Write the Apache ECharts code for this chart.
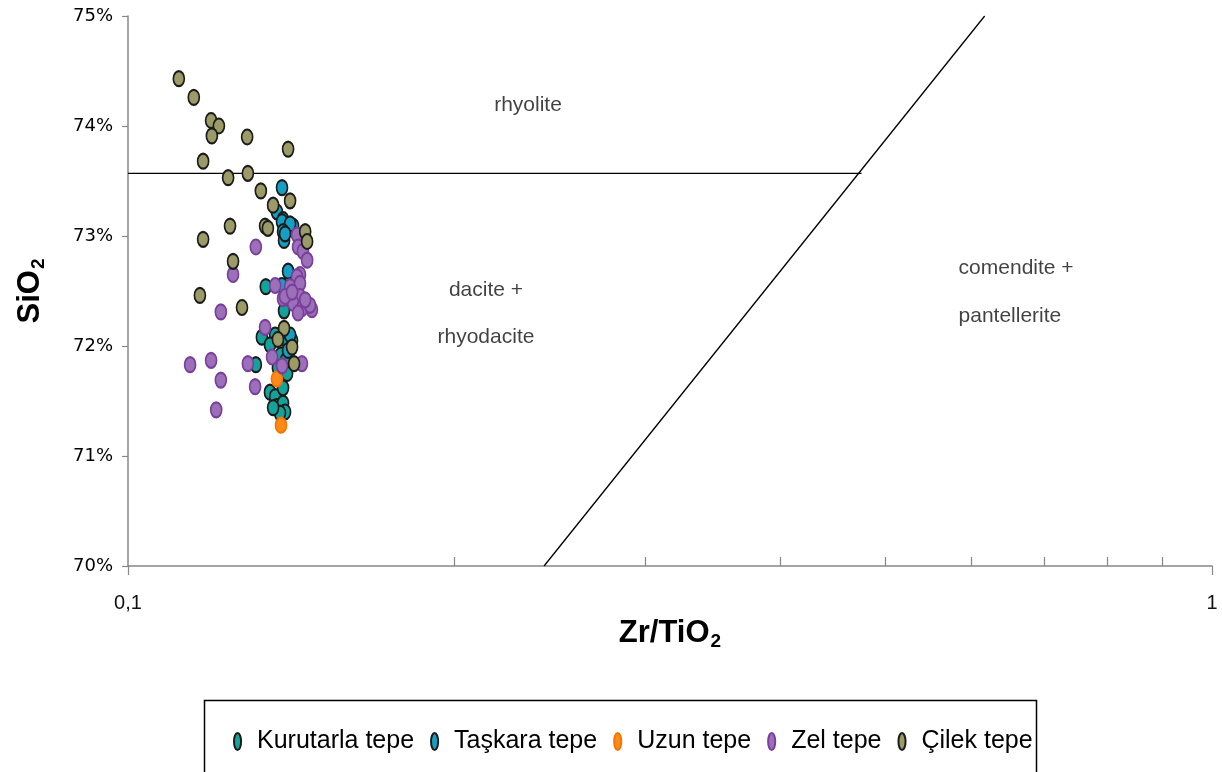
<!DOCTYPE html>
<html>
<head>
<meta charset="utf-8">
<script src="https://cdn.jsdelivr.net/npm/echarts@6/dist/echarts.min.js"></script>
<style>html,body{margin:0;padding:0;background:#fff;}#chart{width:1222px;height:772px;}</style>
</head>
<body>
<div id="chart"></div>
<script>
// ---- data ----
const seriesNames = ['Kurutarla tepe', 'Taşkara tepe', 'Uzun tepe', 'Zel tepe', 'Çilek tepe'];

const kurutarla = [
  [0.1340, 72.54], [0.1393, 72.32], [0.1329, 72.08], [0.1367, 72.10], [0.1312, 71.83],
  [0.1402, 71.75], [0.1384, 71.92], [0.1352, 71.58], [0.1367, 71.54], [0.1372, 71.45],
  [0.1390, 71.48], [0.1396, 71.40], [0.1381, 71.39], [0.1361, 71.44], [0.1399, 71.87],
  [0.1417, 72.05], [0.1405, 72.03], [0.1352, 72.01], [0.1390, 71.62], [0.1375, 71.80]
];
const taskara = [
  [0.1387, 73.44], [0.1372, 73.22], [0.1390, 73.15], [0.1387, 73.13], [0.1420, 73.09],
  [0.1411, 73.11], [0.1390, 73.04], [0.1393, 72.96], [0.1396, 73.02], [0.1405, 72.68],
  [0.1387, 72.55], [0.1411, 72.10], [0.1405, 71.96]
];
const uzun = [
  [0.1372, 71.70], [0.1384, 71.28]
];
const zel = [
  [0.1141, 71.83], [0.1193, 71.87], [0.1218, 71.69], [0.1206, 71.42], [0.1218, 72.31],
  [0.1250, 72.65], [0.1312, 72.90], [0.1290, 71.84], [0.1310, 71.63], [0.1338, 72.17],
  [0.1358, 71.90], [0.1387, 71.82], [0.1447, 71.84], [0.1367, 72.55], [0.1432, 73.01],
  [0.1435, 72.90], [0.1450, 72.86], [0.1463, 72.78], [0.1441, 72.65], [0.1432, 72.63],
  [0.1411, 72.54], [0.1441, 72.57], [0.1441, 72.45], [0.1390, 72.43], [0.1420, 72.39],
  [0.1447, 72.34], [0.1478, 72.33], [0.1435, 72.30], [0.1472, 72.37], [0.1457, 72.42],
  [0.1396, 72.45], [0.1417, 72.49]
];
const cilek = [
  [0.1114, 74.43], [0.1150, 74.26], [0.1193, 74.05], [0.1213, 74.00], [0.1195, 73.91],
  [0.1288, 73.90], [0.1405, 73.79], [0.1173, 73.68], [0.1237, 73.53], [0.1290, 73.57],
  [0.1326, 73.41], [0.1411, 73.32], [0.1361, 73.28], [0.1242, 73.09], [0.1338, 73.09],
  [0.1346, 73.07], [0.1173, 72.97], [0.1457, 73.04], [0.1463, 72.95], [0.1250, 72.77],
  [0.1165, 72.46], [0.1274, 72.35], [0.1393, 72.16], [0.1375, 72.06], [0.1417, 71.99],
  [0.1423, 71.84]
];

// field boundaries
const rhyoliteBoundary = [[0.1, 73.57], [0.475, 73.57]];
const comenditeBoundary = [[0.242, 70], [0.617, 75]];

// field names
const regionLabels = [
  { name: 'rhyolite', value: [0.2339, 74.19] },
  { name: 'dacite +', value: [0.2139, 72.51] },
  { name: 'rhyodacite', value: [0.2139, 72.08] },
  { name: 'comendite +', value: [0.6596, 72.71] },
  { name: 'pantellerite', value: [0.651, 72.27] }
];

// axes
const yMin = 70, yMax = 75, yInterval = 1;
const xMin = 0.1, xMax = 1;
const xMinorTicks = [0.2, 0.3, 0.4, 0.5, 0.6, 0.7, 0.8, 0.9];

// ---- styles ----
const ellipse = 'path://M0,50 C0,22 22,0 50,0 C78,0 100,22 100,50 C100,78 78,100 50,100 C22,100 0,78 0,50 Z';
const legendIcon = 'path://M254,0 M0,120 C0,54 22,0 50,0 C78,0 100,54 100,120 C100,186 78,240 50,240 C22,240 0,186 0,120 Z';
const styles = [
  { color: '#14a39a', borderColor: '#1b1b1b' },
  { color: '#169fc4', borderColor: '#1b1b1b' },
  { color: '#ff8a1a', borderColor: '#f47600' },
  { color: '#9c70b8', borderColor: '#7a3e9c' },
  { color: '#9c9a66', borderColor: '#1b1b1b' }
];
const pointData = [kurutarla, taskara, uzun, zel, cilek];

const chart = echarts.init(document.getElementById('chart'), null, { renderer: 'canvas' });

const scatterSeries = seriesNames.map((n, i) => ({
  name: n,
  type: 'scatter',
  xAxisIndex: 0,
  yAxisIndex: 0,
  symbol: ellipse,
  symbolSize: [11, 15],
  data: pointData[i],
  itemStyle: { color: styles[i].color, borderColor: styles[i].borderColor, borderWidth: 1.9, opacity: 1 },
  emphasis: { disabled: true },
  z: 3 + i
}));

const option = {
  animation: false,
  backgroundColor: '#ffffff',
  grid: { left: 128, right: 10, top: 16, bottom: 206, outerBoundsMode: 'none' },
  xAxis: [
    {
      type: 'log', logBase: 10, min: xMin, max: xMax,
      name: '{a|Zr/TiO}{b|2}', nameLocation: 'middle', nameGap: 47,
      nameTextStyle: {
        rich: {
          a: { fontFamily: 'Liberation Sans', fontWeight: 'bold', fontSize: 31, color: '#000' },
          b: { fontFamily: 'Liberation Sans', fontWeight: 'bold', fontSize: 19, color: '#000', padding: [16, 0, 0, 1] }
        }
      },
      axisLine: { show: true, onZero: false, lineStyle: { color: '#878787', width: 1.5 } },
      axisTick: { show: true, inside: false, length: 9, lineStyle: { color: '#878787', width: 1.2 } },
      axisLabel: {
        margin: 27, fontFamily: 'Liberation Sans', fontSize: 20, color: '#111',
        formatter: v => String(v).replace('.', ',')
      },
      splitLine: { show: false },
      minorTick: { show: false }
    },
    {
      type: 'value', min: Math.log10(xMin), max: Math.log10(xMax), position: 'bottom',
      axisLine: { show: false, onZero: false },
      axisTick: {
        show: true, inside: true, length: 9,
        customValues: xMinorTicks.map(v => Math.log10(v)),
        lineStyle: { color: '#878787', width: 1.2 }
      },
      axisLabel: { show: false },
      splitLine: { show: false }
    }
  ],
  yAxis: {
    type: 'value', min: yMin, max: yMax, interval: yInterval,
    name: '{a|SiO}{b|2}', nameLocation: 'middle', nameGap: 80, nameRotate: 90,
    nameTextStyle: {
      rich: {
        a: { fontFamily: 'Liberation Sans', fontWeight: 'bold', fontSize: 31, color: '#000' },
        b: { fontFamily: 'Liberation Sans', fontWeight: 'bold', fontSize: 19, color: '#000', padding: [16, 0, 0, 1] }
      }
    },
    axisLine: { show: true, onZero: false, lineStyle: { color: '#878787', width: 1.5 } },
    axisTick: { show: true, inside: false, length: 6, lineStyle: { color: '#878787', width: 1.2 } },
    axisLabel: { margin: 15, fontFamily: 'DejaVu Sans', fontSize: 18, color: '#000', formatter: v => v + '%' },
    splitLine: { show: false }
  },
  legend: {
    data: seriesNames,
    left: 228, top: 724,
    orient: 'horizontal',
    itemWidth: 18, itemHeight: 17, itemGap: 16,
    icon: legendIcon,
    textStyle: { fontFamily: 'Liberation Sans', fontSize: 25, color: '#000' },
    selectedMode: false
  },
  graphic: [
    {
      type: 'rect', left: 202, top: 698,
      shape: { width: 832, height: 100 },
      style: { fill: 'none', stroke: '#000', lineWidth: 1.5 },
      silent: true, z: 0
    }
  ],
  series: [
    {
      name: 'rhyolite boundary', type: 'line', data: rhyoliteBoundary,
      symbol: 'none', lineStyle: { color: '#000', width: 1.3 }, silent: true, z: 2
    },
    {
      name: 'comendite boundary', type: 'line', data: comenditeBoundary,
      symbol: 'none', lineStyle: { color: '#000', width: 1.3 }, silent: true, z: 2
    },
    {
      name: 'fields', type: 'scatter', data: regionLabels, symbolSize: 0, silent: true,
      label: {
        show: true, position: 'inside', formatter: p => p.name,
        fontFamily: 'Liberation Sans', fontSize: 21, color: '#111'
      },
      z: 1
    }
  ].concat(scatterSeries)
};
chart.setOption(option);
</script>
</body>
</html>
